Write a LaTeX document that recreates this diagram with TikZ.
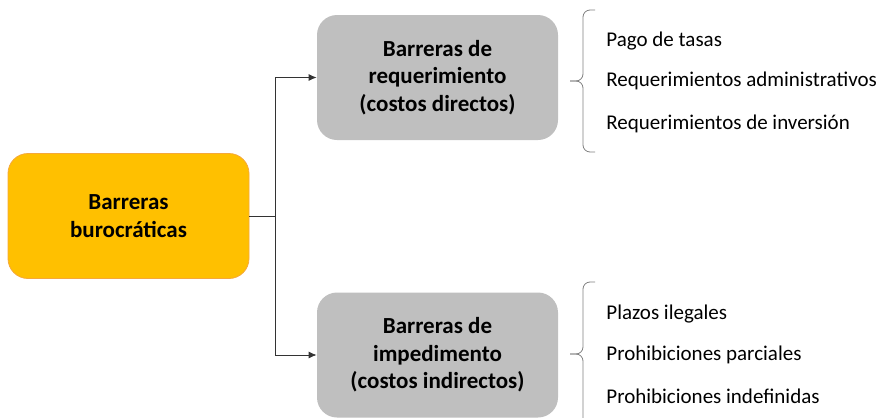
\documentclass[tikz,border=0pt]{standalone}
\usepackage{fontspec}
\setmainfont{Carlito}
\usetikzlibrary{arrows.meta,positioning}

\begin{document}
\begin{tikzpicture}[x=0.5pt,y=-0.5pt,
  main/.style = {rounded corners=10pt, minimum width=120.5pt, minimum height=62.5pt,
                 align=center, font=\bfseries\fontsize{11.5}{13.8}\selectfont},
  raiz/.style = {main, fill=orange1, draw=orange2},
  rama/.style = {main, fill=gris1},
  item/.style = {anchor=west, font=\fontsize{10.5}{13}\selectfont, inner sep=0pt},
  llave/.style = {draw=gris2, thin, rounded corners=3.5pt},
  flecha/.style = {draw=black!80, thin}]
  \definecolor{orange1}{HTML}{FFC000}
  \definecolor{orange2}{HTML}{F5A83A}
  \definecolor{gris1}{HTML}{BFBFBF}
  \definecolor{gris2}{HTML}{7F7F7F}
  \useasboundingbox (0,0) rectangle (880,418);

  \node[raiz] (buro) at (128.5,216) {Barreras\\burocráticas};
  \node[rama] (req) at (437.5,77.5) {Barreras de\\requerimiento\\(costos directos)};
  \node[rama] (imp) at (437.5,355) {Barreras de\\impedimento\\(costos indirectos)};

  \coordinate (split) at (275,216);
  \draw[flecha] (buro) -- (split);
  \draw[flecha,-{Latex[length=4pt,width=3.5pt]}] (split) |- (req);
  \draw[flecha,-{Latex[length=4pt,width=3.5pt]}] (split) |- (imp);

  \coordinate (r1) at (595,152);
  \coordinate (r2) at (595,10);
  \coordinate (rm) at (583,81);
  \coordinate (rt) at (570,81);
  \draw[llave] (r2) -| (rm) -- (rt);
  \draw[llave] (r1) -| (rm) -- (rt);

  \coordinate (i1) at (595,426);
  \coordinate (i2) at (595,282);
  \coordinate (im) at (583,354);
  \coordinate (it) at (570,354);
  \draw[llave] (i2) -| (im) -- (it);
  \draw[llave] (i1) -| (im) -- (it);

  \node[item] (pago) at (606,41) {Pago de tasas};
  \node[item] (adm) at (606,81) {Requerimientos administrativos};
  \node[item] (inv) at (606,124) {Requerimientos de inversión};
  \node[item] (plazos) at (606,314) {Plazos ilegales};
  \node[item] (parc) at (606,355) {Prohibiciones parciales};
  \node[item] (indef) at (606,396) {Prohibiciones indefinidas};
\end{tikzpicture}
\end{document}
